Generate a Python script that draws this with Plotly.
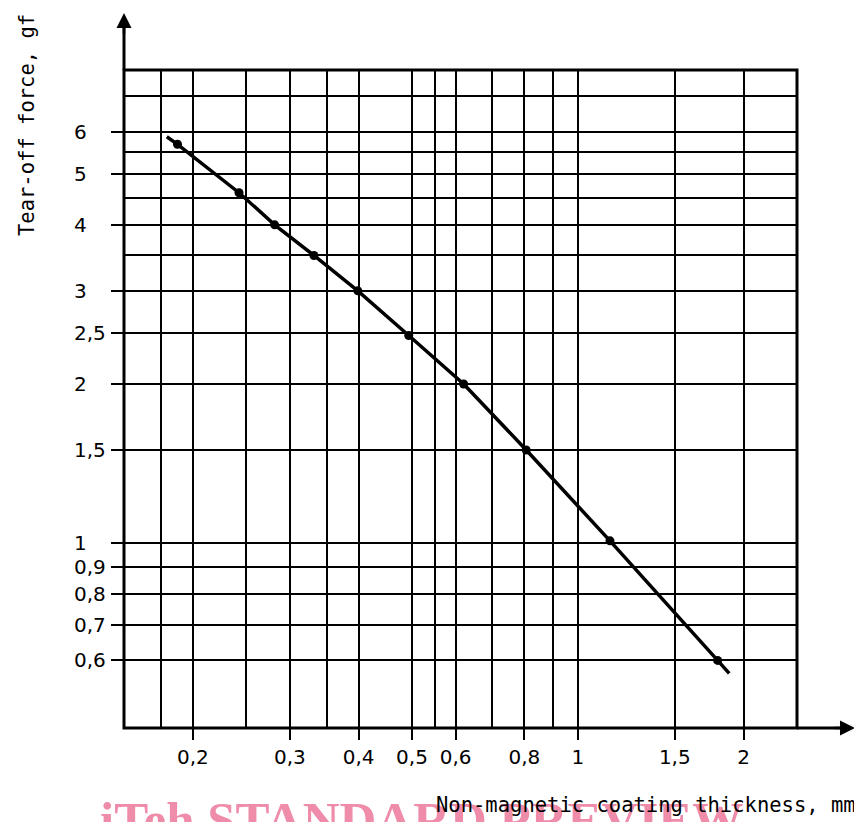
import math
import plotly.graph_objects as go

# ---- data ----
x_pts = [0.1876, 0.2426, 0.2816, 0.3318, 0.3987, 0.4932, 0.6204, 0.806, 1.144, 1.794]
y_pts = [5.68, 4.60, 4.00, 3.50, 3.00, 2.47, 2.00, 1.50, 1.01, 0.60]
curve_start_x, curve_start_y = 0.1794, 5.87
curve_end_x, curve_end_y = 1.883, 0.567

x_major = [0.2, 0.3, 0.4, 0.5, 0.6, 0.8, 1, 1.5, 2]
x_major_text = ["0,2", "0,3", "0,4", "0,5", "0,6", "0,8", "1", "1,5", "2"]
x_minor = [0.175, 0.25, 0.35, 0.55, 0.7, 0.9]
y_major = [6, 5, 4, 3, 2.5, 2, 1.5, 1, 0.9, 0.8, 0.7, 0.6]
y_major_text = ["6", "5", "4", "3", "2,5", "2", "1,5", "1", "0,9", "0,8", "0,7", "0,6"]
y_minor = [7, 5.5, 4.5, 3.5]
x_range = [0.15, 2.5]
y_range = [0.447, 7.85]

x_title = "Non-magnetic coating thickness, mm"
y_title = "Tear-off force, gf"
watermark = "iTeh STANDARD PREVIEW"

tick_font = dict(family="DejaVu Sans", size=20, color="black")
title_font = dict(family="DejaVu Sans Mono", size=20.5, color="black")

fig = go.Figure()
fig.add_trace(go.Scatter(
    x=[curve_start_x] + x_pts + [curve_end_x],
    y=[curve_start_y] + y_pts + [curve_end_y],
    mode="lines", line=dict(color="black", width=3.5),
    hoverinfo="skip", showlegend=False))
fig.add_trace(go.Scatter(
    x=x_pts, y=y_pts, mode="markers",
    marker=dict(color="black", size=9), showlegend=False))

grid = dict(showgrid=True, gridcolor="black", gridwidth=2)
fig.update_xaxes(
    type="log", range=[math.log10(v) for v in x_range],
    tickmode="array", tickvals=x_major, ticktext=x_major_text,
    ticks="outside", ticklen=11, tickwidth=2, tickcolor="black",
    tickfont=tick_font, showline=False, zeroline=False,
    minor=dict(tickmode="array", tickvals=x_minor, showgrid=True,
               gridcolor="black", gridwidth=2, ticks=""),
    **grid)
fig.update_yaxes(
    type="log", range=[math.log10(v) for v in y_range],
    tickmode="array", tickvals=y_major, ticktext=[""] * len(y_major),
    ticks="outside", ticklen=12, tickwidth=2, tickcolor="black",
    showline=False, zeroline=False,
    minor=dict(tickmode="array", tickvals=y_minor, showgrid=True,
               gridcolor="black", gridwidth=2, ticks=""),
    **grid)

annotations = []
# watermark (drawn first so black text lies on top)
annotations.append(dict(
    text="<b>" + watermark + "</b>", xref="paper", yref="paper",
    x=-0.0386, y=-0.0948,
    xanchor="left", yanchor="top", showarrow=False,
    font=dict(family="Liberation Serif", size=51, color="#EE8CAA")))
# y tick labels, left-aligned like the reference
for v, t in zip(y_major, y_major_text):
    annotations.append(dict(
        text=t, xref="paper", yref="y", x=-0.0775, y=math.log10(v),
        xanchor="left", yanchor="middle", showarrow=False, font=tick_font))
annotations.append(dict(
    text=x_title, xref="paper", yref="paper", x=1.0906, y=-0.1165,
    xanchor="right", yanchor="middle", showarrow=False, font=title_font))
annotations.append(dict(
    text=y_title, xref="paper", yref="paper", x=-0.144, y=0.9165,
    xanchor="center", yanchor="middle", textangle=-90, showarrow=False,
    font=title_font))
# arrow heads
annotations.append(dict(
    text="", xref="paper", yref="paper", x=1.0862, y=0, ax=-22, ay=0,
    showarrow=True, arrowhead=2, arrowsize=1.2, arrowwidth=2.5,
    arrowcolor="black"))
annotations.append(dict(
    text="", xref="paper", yref="paper", x=0, y=1.0866, ax=0, ay=22,
    showarrow=True, arrowhead=2, arrowsize=1.2, arrowwidth=2.5,
    arrowcolor="black"))

shapes = [
    dict(type="rect", xref="paper", yref="paper", x0=0, y0=0, x1=1, y1=1,
         line=dict(color="black", width=3), layer="above"),
    dict(type="line", xref="paper", yref="paper", x0=1, y0=0, x1=1.07, y1=0,
         line=dict(color="black", width=3)),
    dict(type="line", xref="paper", yref="paper", x0=0, y0=1, x1=0, y1=1.07,
         line=dict(color="black", width=3)),
]

# the page body adds an 8 px margin, so the figure is 8 px smaller
fig.update_layout(
    width=854, height=814,
    margin=dict(l=116, r=65, t=62, b=94),
    paper_bgcolor="white", plot_bgcolor="white",
    showlegend=False, annotations=annotations, shapes=shapes)

fig.write_html("out.html")
